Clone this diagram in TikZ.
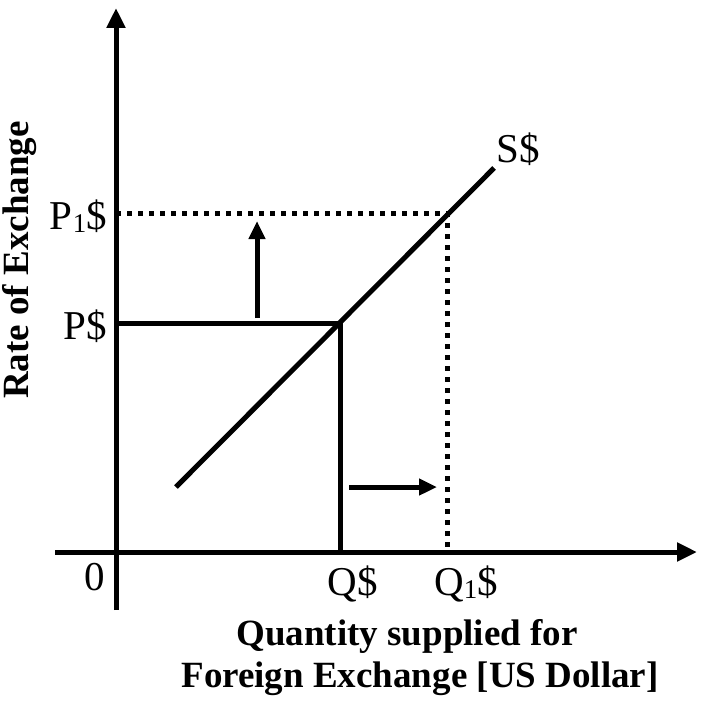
\documentclass[tikz,border=0pt]{standalone}
\usepackage{fontspec}
\setmainfont{Liberation Serif}
\usepackage{tikz}
\usetikzlibrary{arrows.meta, positioning, calc}
\tikzstyle{axis} = [line width=5pt, -{Triangle[length=20pt,width=18pt]}]
\tikzstyle{curve} = [line width=5pt]
\tikzstyle{guide} = [line width=5pt, dash pattern=on 5pt off 6pt]
\tikzstyle{moveto} = [line width=5pt, -{Triangle[length=18pt,width=16pt]}]
\tikzstyle{lbl} = [font=\fontsize{41}{44}\selectfont, inner sep=0pt, anchor=base]
\tikzstyle{title} = [font=\bfseries\fontsize{37}{40}\selectfont, inner sep=0pt]
\newcommand{\subone}{\raisebox{-3pt}{\fontsize{27}{27}\selectfont 1}}

\begin{document}
\begin{tikzpicture}[x=1pt, y=-1pt]
        \useasboundingbox (0,0) rectangle (703,701);

        % Axes
        \coordinate (ybot) at (116,610);
        \coordinate (ytop) at (116,8);
        \coordinate (xleft) at (55,552);
        \coordinate (xright) at (697,552);
        \draw [axis] (ybot) -- (ytop);
        \draw [axis] (xleft) -- (xright);

        % Supply curve
        \coordinate (s_low) at (176,487);
        \coordinate (s_high) at (494,168);
        \draw [curve] (s_low) -- (s_high);

        % Equilibrium points
        \coordinate (e0) at (340,323);
        \coordinate (e1) at (447,213);
        \coordinate (p0) at (116,323);
        \coordinate (p1) at (116,213);
        \coordinate (q0) at (340,552);
        \coordinate (q1) at (447,552);
        \draw [curve] (p0) -- (e0) -- (q0);
        \draw [guide] (p1) -- (e1) -- (q1);

        % Shifts
        \coordinate (up_from) at (257,318);
        \coordinate (up_to) at (257,221);
        \coordinate (right_from) at (349,487);
        \coordinate (right_to) at (437,487);
        \draw [moveto] (up_from) -- (up_to);
        \draw [moveto] (right_from) -- (right_to);

        % Labels
        \node (s_lbl) [lbl] at (518,162) {S\$};
        \node (p1_lbl) [lbl, anchor=base east] at (107,229) {P\subone\$};
        \node (p0_lbl) [lbl, anchor=base east] at (107,339) {P\$};
        \node (zero) [lbl] at (95,590) {0};
        \node (q0_lbl) [lbl] at (353,595) {Q\$};
        \node (q1_lbl) [lbl] at (466,595) {Q\subone\$};

        % Axis titles
        \node (ytitle) [title, rotate=90] at (20,260) {Rate of Exchange};
        \node (xtitle1) [title, anchor=base] at (407,645) {Quantity supplied for};
        \node (xtitle2) [title, anchor=base] at (420,687) {Foreign Exchange [US Dollar]};
\end{tikzpicture}
\end{document}
